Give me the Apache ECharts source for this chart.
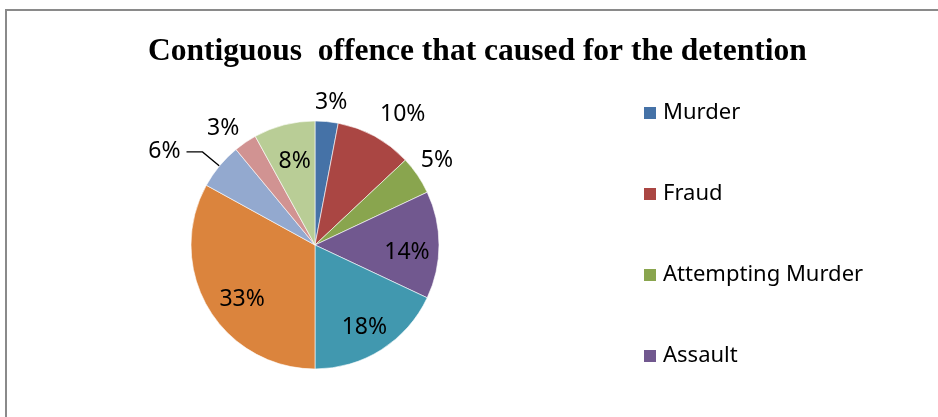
<!DOCTYPE html>
<html>
<head>
<meta charset="utf-8">
<script src="https://cdn.jsdelivr.net/npm/echarts@6/dist/echarts.min.js"></script>
<style>
html,body{margin:0;padding:0;background:#fff;overflow:hidden;}
#chart{position:absolute;left:0;top:0;width:938px;height:417px;}
</style>
</head>
<body>
<div id="chart"></div>
<script>
// ---- data ----
const titleText = 'Contiguous  offence that caused for the detention';
const categories = ['Murder', 'Fraud', 'Attempting Murder', 'Assault', 'Category 5', 'Category 6', 'Category 7', 'Category 8', 'Category 9'];
const values = [3, 10, 5, 14, 18, 33, 6, 3, 8];
const colors = ['#4572A7', '#AA4643', '#89A54E', '#71588F', '#4198AF', '#DB843D', '#93A9CF', '#D19392', '#B9CD96'];
const legendShown = ['Murder', 'Fraud', 'Attempting Murder', 'Assault'];
// label placement per slice: 'in' inside, 'out' outside, 'line' outside with leader line
const labelPlace = ['out', 'out', 'out', 'in', 'in', 'in', 'line', 'out', 'in'];
// fine label nudges (px)
const outNudge = {0: [2, 8], 1: [15, 2], 2: [-3, 0], 7: [-7, 8]};
const inNudge = {3: [-2, 7], 4: [-1, 3], 5: [8, 7], 8: [3, 7]};

const chart = echarts.init(document.getElementById('chart'), null, {renderer: 'canvas'});
const CENTER = [315, 245];
const labelFont = {fontFamily: 'Noto Sans', fontSize: 23, color: '#000'};
const fmt = p => p.value + '%';

const mainData = categories.map((n, i) => ({
  name: n, value: values[i],
  itemStyle: {color: colors[i]},
  label: labelPlace[i] === 'line' ? {show: true} : {show: false},
  labelLine: {show: labelPlace[i] === 'line'}
}));

function overlayData(kind) {
  return categories.map((n, i) => ({
    name: n, value: values[i],
    itemStyle: {color: 'rgba(0,0,0,0)'},
    label: {show: labelPlace[i] === kind}
  }));
}

const option = {
  animation: false,
  color: colors,
  graphic: [{
    type: 'polyline', silent: true, z: -1,
    shape: {points: [[6, 430], [6, 10], [950, 10]]},
    style: {stroke: '#8a8a8a', lineWidth: 2, fill: null}
  }],
  title: {
    text: titleText,
    left: 143, top: 31,
    textStyle: {fontFamily: 'Liberation Serif', fontWeight: 'bold', fontSize: 31.5, color: '#000'}
  },
  legend: {
    data: legendShown,
    orient: 'vertical',
    left: 637, top: 97,
    itemWidth: 14, itemHeight: 14,
    itemGap: 59,
    icon: 'rect',
    textStyle: {fontFamily: 'Noto Sans', fontSize: 22, color: '#000', lineHeight: 20, padding: [0, 0, 0, 1]}
  },
  series: [
    {
      type: 'pie', name: 'main',
      center: CENTER, radius: [0, 124],
      startAngle: 90, clockwise: true,
      avoidLabelOverlap: false,
      itemStyle: {borderColor: '#fff', borderWidth: 0.6},
      label: Object.assign({position: 'outside', formatter: fmt, distanceToLabelLine: 6, alignTo: 'none'}, labelFont),
      labelLine: {show: false, length: 22, length2: 16, smooth: false, lineStyle: {color: '#000', width: 1.3}},
      emphasis: {disabled: true},
      data: mainData
    },
    {
      type: 'pie', name: 'inLabels', silent: true,
      center: CENTER, radius: [58, 124],
      startAngle: 90, clockwise: true,
      avoidLabelOverlap: false,
      itemStyle: {borderWidth: 0},
      label: Object.assign({position: 'inside', formatter: fmt}, labelFont),
      labelLine: {show: false},
      labelLayout: p => { const d = inNudge[p.dataIndex] || [0, 0]; return {dx: d[0], dy: d[1]}; },
      emphasis: {disabled: true},
      data: overlayData('in')
    },
    {
      type: 'pie', name: 'outLabels', silent: true,
      center: CENTER, radius: [124, 172],
      startAngle: 90, clockwise: true,
      avoidLabelOverlap: false,
      itemStyle: {borderWidth: 0},
      label: Object.assign({position: 'inside', formatter: fmt}, labelFont),
      labelLine: {show: false},
      labelLayout: p => { const d = outNudge[p.dataIndex] || [0, 0]; return {dx: d[0], dy: d[1]}; },
      emphasis: {disabled: true},
      data: overlayData('out')
    }
  ]
};
chart.setOption(option);
</script>
</body>
</html>
